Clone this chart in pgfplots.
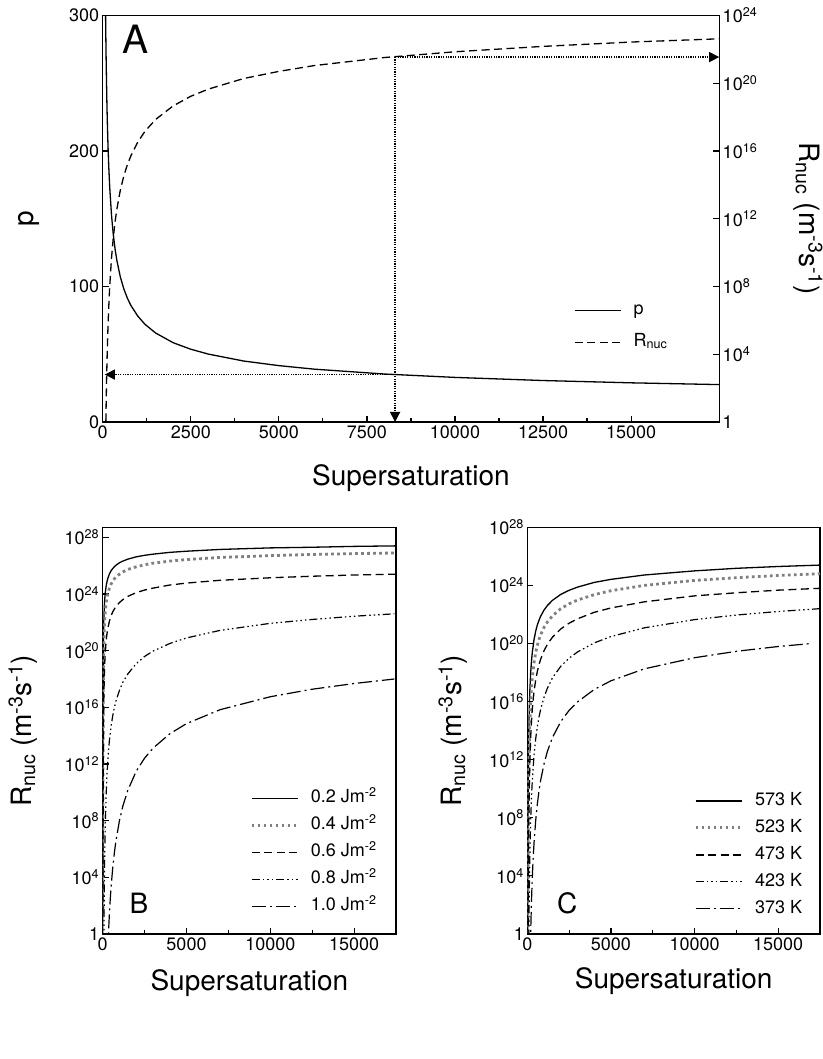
\documentclass[border=0pt]{standalone}
\usepackage{fontspec}
\setmainfont{TeX Gyre Heros}
\usepackage{pgfplots}
\pgfplotsset{compat=1.18}
\usetikzlibrary{arrows.meta}

\newcommand\tfont{\fontsize{18}{21}\selectfont}
\newcommand\lfont{\fontsize{28}{32}\selectfont}

\pgfplotsset{
  myaxis/.style={
    scale only axis,
    anchor=south west,
    axis line style={line width=1.4pt},
    every tick/.style={black, line width=1.2pt},
    major tick length=6pt, minor tick length=4pt,
    tick align=inside,
    tick label style={font=\tfont},
    scaled x ticks=false,
    /pgf/number format/assume math mode=true,
    /pgf/number format/set thousands separator={},
    xmin=0, xmax=17500,
    legend cell align=left,
    legend image code/.code={\draw[##1] (0pt,0pt) -- (46pt,0pt);},
    legend style={draw=none, fill=none, font=\tfont, inner sep=0pt, column sep=12pt,
      nodes={inner sep=0pt, text height=13pt, text depth=4pt}},
  },
  solidl/.style={black, line width=1.3pt, line join=round},
  dashedl/.style={black, line width=1.3pt, dash pattern=on 8pt off 4.5pt},
  dottedl/.style={gray, line width=2.8pt, dash pattern=on 2.8pt off 3.2pt},
  dddl/.style={black, line width=1.2pt, dash pattern=on 8pt off 3pt on 1.5pt off 3pt on 1.5pt off 3pt on 1.5pt off 3pt},
  ddl/.style={black, line width=1.2pt, dash pattern=on 14pt off 4pt on 2pt off 4pt},
  arr/.style={black, line width=1.4pt, dash pattern=on 1.2pt off 1.2pt, -{Triangle[length=10pt,width=10pt]}},
}

\begin{document}
\begin{tikzpicture}
\useasboundingbox (0pt,0pt) rectangle (822pt,1059pt);

% ---------------- Panel A ----------------
\begin{axis}[myaxis, at={(102.7pt,637pt)}, width=616.5pt, height=406.5pt,
  ymin=0, ymax=300, ytick={0,100,200,300},
  xtick={0,2500,5000,7500,10000,12500,15000}, minor x tick num=1,
  xtick pos=bottom, ytick pos=left, clip=false,
  xlabel={Supersaturation}, ylabel={p},
  every axis x label/.style={at={(axis description cs:0.5,-0.138)}, anchor=center, font=\lfont},
  every axis y label/.style={at={(axis description cs:-0.1195,0.5)}, rotate=90, anchor=center, font=\lfont},
]
\addplot[solidl] coordinates {
(82,300) (90,282.1) (100,263.2) (120,234.3) (130,222.9) (150,204.3) (170,189.7)
(200,172.8) (250,152.7) (300,138.5) (350,127.9) (400,119.5) (500,107.1) (600,98.2)
(700,91.4) (800,86.0) (1000,78.0) (1200,72.1) (1500,65.7) (2000,58.5) (2500,53.7)
(3000,50.1) (4000,45.0) (5000,41.6) (6000,39.0) (8000,35.4) (10000,32.9)
(12500,30.6) (15000,28.9) (17500,27.6)};
\addplot[arr] coordinates {(8300,35) (60,35)};
\addplot[arr] coordinates {(8300,269.4) (8300,0)};
\node[font=\fontsize{39}{42}\selectfont] at (axis description cs:0.054,0.942) {A};
\end{axis}

\begin{axis}[myaxis, at={(102.7pt,637pt)}, width=616.5pt, height=406.5pt,
  ymode=log, ymin=1, ymax=1e24, axis x line=none, axis y line*=right, clip=false,
  ytick={1,1e4,1e8,1e12,1e16,1e20,1e24},
  yticklabels={1,10\textsuperscript{4},10\textsuperscript{8},10\textsuperscript{12},10\textsuperscript{16},10\textsuperscript{20},10\textsuperscript{24}},
  ylabel={R\textsubscript{nuc} (m\textsuperscript{-3}s\textsuperscript{-1})},
  every axis y label/.style={at={(axis description cs:1.144,0.5)}, rotate=-90, anchor=center, font=\lfont},
  legend style={at={(axis description cs:0.7645,0.300)}, anchor=north west, row sep=12pt,
    nodes={inner sep=0pt, text height=14pt, text depth=6pt}},
]
\addlegendimage{solidl}
\addlegendentry{p}
\addplot[dashedl] coordinates {
(90,1.1) (100,22) (110,2.8e2) (120,2.5e3) (130,1.7e4) (150,4.0e5) (170,5.1e6)
(200,1.1e8) (250,4.8e9) (300,7.4e10) (350,6.3e11) (400,3.5e12) (500,4.8e13)
(600,3.4e14) (700,1.55e15) (800,5.2e15) (1000,3.5e16) (1200,1.45e17) (1500,7.2e17)
(2000,4.6e18) (2500,1.7e19) (3000,4.5e19) (4000,1.9e20) (5000,5.0e20)
(6000,1.1e21) (8000,3.3e21) (10000,7.2e21) (12500,1.5e22) (15000,2.7e22) (17500,4.2e22)};
\addlegendentry{R\textsubscript{nuc}}
\addplot[arr, forget plot] coordinates {(8300,3.5e21) (17500,3.5e21)};
\end{axis}

% ---------------- Panel B ----------------
\begin{axis}[myaxis, at={(102.7pt,125pt)}, width=293.3pt, height=406.3pt,
  ymode=log, ymin=1, ymax=4.8e28,
  ytick={1,1e4,1e8,1e12,1e16,1e20,1e24,1e28},
  yticklabels={1,10\textsuperscript{4},10\textsuperscript{8},10\textsuperscript{12},10\textsuperscript{16},10\textsuperscript{20},10\textsuperscript{24},10\textsuperscript{28}},
  xtick={0,5000,10000,15000}, minor x tick num=1,
  xtick pos=bottom, ytick pos=left,
  xlabel={Supersaturation}, ylabel={R\textsubscript{nuc} (m\textsuperscript{-3}s\textsuperscript{-1})},
  every axis x label/.style={at={(axis description cs:0.5,-0.12)}, anchor=center, font=\lfont},
  every axis y label/.style={at={(axis description cs:-0.272,0.5)}, rotate=90, anchor=center, font=\lfont},
  legend style={at={(axis description cs:0.502,0.3557)}, anchor=north west, row sep=10pt},
]
\addplot[solidl] coordinates {
(7,2.5e-2) (10,1e7) (15,1e13) (20,6.9e15) (30,5.0e18) (50,1.3e21) (70,1.8e22)
(100,1.6e23) (120,4.0e23) (150,1.1e24) (200,3.3e24) (250,6.9e24) (300,1.2e25)
(400,2.6e25) (500,4.4e25) (600,6.3e25) (700,8.5e25) (800,1.1e26) (1000,1.6e26)
(1200,2.1e26) (1500,2.9e26) (2000,4.2e26) (2500,5.4e26) (3000,6.5e26) (4000,8.7e26)
(5000,1.05e27) (7000,1.4e27) (10000,1.8e27) (12500,2.0e27) (15000,2.3e27) (17500,2.5e27)};
\addlegendentry{0.2 Jm\textsuperscript{-2}}
\addplot[dottedl] coordinates {
(10,25) (15,7.9e8) (20,3.0e12) (30,1.1e16) (50,1.15e19) (70,3.0e20) (100,4.6e21)
(120,1.4e22) (150,5.0e22) (200,2.0e23) (250,5.1e23) (300,1.0e24) (400,2.6e24)
(500,5.0e24) (600,8.1e24) (700,1.2e25) (800,1.6e25) (1000,2.5e25) (1200,3.6e25)
(1500,5.4e25) (2000,8.3e25) (2500,1.15e26) (3000,1.5e26) (4000,2.1e26) (5000,2.7e26)
(7000,3.8e26) (10000,5.1e26) (12500,6.2e26) (15000,7.1e26) (17500,7.9e26)};
\addlegendentry{0.4 Jm\textsuperscript{-2}}
\addplot[dashedl] coordinates {
(15,25) (20,1.4e6) (30,8.1e10) (50,8.5e14) (70,6.8e16) (100,2.5e18) (120,1.2e19)
(150,6.3e19) (200,4.0e20) (250,1.4e21) (300,3.5e21) (400,1.2e22) (500,2.9e22)
(600,5.5e22) (700,8.9e22) (800,1.35e23) (1000,2.5e23) (1200,4.0e23) (1500,6.8e23)
(2000,1.26e24) (2500,1.9e24) (3000,2.6e24) (4000,4.3e24) (5000,5.9e24) (7000,9.3e24)
(10000,1.4e25) (12500,1.8e25) (15000,2.2e25) (17500,2.5e25)};
\addlegendentry{0.6 Jm\textsuperscript{-2}}
\addplot[dddl] coordinates {
(70,0.3) (100,5.2e3) (120,3.4e5) (150,3.1e7) (200,4.5e9) (250,1.3e11) (300,1.5e12)
(350,9.8e12) (400,4.5e13) (500,4.7e14) (600,2.6e15) (700,1e16) (800,3.0e16)
(1000,1.6e17) (1200,5.8e17) (1500,2.3e18) (2000,1.2e19) (2500,3.9e19) (3000,9.3e19)
(4000,3.2e20) (5000,7.9e20) (7000,2.7e21) (10000,8.5e21) (12500,1.6e22)
(15000,2.7e22) (17400,4.0e22)};
\addlegendentry{0.8 Jm\textsuperscript{-2}}
\addplot[ddl] coordinates {
(300,0.05) (350,1.6) (400,26) (450,2.8e2) (500,2.0e3) (600,4.9e4) (700,5.9e5)
(800,4.5e6) (1000,1.0e8) (1200,1.05e9) (1500,1.4e10) (2000,3.1e11) (2500,2.6e12)
(3000,1.3e13) (4000,1.35e14) (5000,7.1e14) (7000,6.8e15) (10000,5.6e16)
(12500,1.9e17) (15000,4.8e17) (17400,1.0e18)};
\addlegendentry{1.0 Jm\textsuperscript{-2}}
\node[font=\lfont] at (axis description cs:0.124,0.076) {B};
\end{axis}

% ---------------- Panel C ----------------
\begin{axis}[myaxis, at={(527.3pt,125pt)}, width=292.7pt, height=406.7pt,
  ymode=log, ymin=1, ymax=1e28,
  ytick={1,1e4,1e8,1e12,1e16,1e20,1e24,1e28},
  yticklabels={1,10\textsuperscript{4},10\textsuperscript{8},10\textsuperscript{12},10\textsuperscript{16},10\textsuperscript{20},10\textsuperscript{24},10\textsuperscript{28}},
  xtick={0,5000,10000,15000}, minor x tick num=1,
  xtick pos=bottom, ytick pos=left,
  xlabel={Supersaturation}, ylabel={R\textsubscript{nuc} (m\textsuperscript{-3}s\textsuperscript{-1})},
  every axis x label/.style={at={(axis description cs:0.5,-0.115)}, anchor=center, font=\lfont},
  every axis y label/.style={at={(axis description cs:-0.254,0.5)}, rotate=90, anchor=center, font=\lfont},
  legend style={at={(axis description cs:0.5695,0.3487)}, anchor=north west, row sep=10pt},
]
\addplot[solidl] coordinates {
(25,0.85) (30,8.1e2) (40,5.6e6) (50,1.4e9) (70,1.3e12) (100,3.5e14) (120,3.9e15)
(150,5.1e16) (200,9.1e17) (250,6.2e18) (300,2.5e19) (400,1.8e20) (500,6.9e20)
(600,1.9e21) (700,4.0e21) (800,7.6e21) (1000,2.0e22) (1200,4.1e22) (1500,9.3e22)
(2000,2.4e23) (2500,4.6e23) (3000,7.6e23) (4000,1.6e24) (5000,2.6e24) (7000,5.2e24)
(10000,1.0e25) (12500,1.5e25) (15000,2.0e25) (17500,2.5e25)};
\addlegendentry{573 K}
\addplot[dottedl] coordinates {
(30,0.01) (40,3.6e2) (50,2.7e5) (70,8.7e8) (100,7.2e11) (120,1.3e13) (150,2.8e14)
(200,8.5e15) (250,8.3e16) (300,4.5e17) (400,4.7e18) (500,2.3e19) (600,7.4e19)
(700,1.9e20) (800,4.0e20) (1000,1.3e21) (1200,3.0e21) (1500,7.9e21) (2000,2.5e22)
(2500,5.4e22) (3000,9.8e22) (4000,2.3e23) (5000,4.3e23) (7000,1.0e24)
(10000,2.2e24) (12500,3.4e24) (15000,4.8e24) (17500,6.3e24)};
\addlegendentry{523 K}
\addplot[dashedl] coordinates {
(40,0.01) (50,20) (70,2.5e5) (100,5.9e8) (120,1.6e10) (150,5.9e11) (200,3.1e13)
(250,4.5e14) (300,3.2e15) (400,4.8e16) (500,3.0e17) (600,1.2e18) (700,3.5e18)
(800,8.5e18) (1000,3.2e19) (1200,8.7e19) (1500,2.7e20) (2000,1.0e21) (2500,2.5e21)
(3000,5.0e21) (4000,1.4e22) (5000,2.8e22) (7000,7.4e22) (10000,1.9e23)
(12500,3.1e23) (15000,4.7e23) (17500,6.3e23)};
\addlegendentry{473 K}
\addplot[dddl] coordinates {
(90,0.58) (100,11.5) (120,1.3e3) (150,2.1e5) (200,5.9e7) (250,2.6e9) (300,4.1e10)
(400,1.9e12) (500,2.7e13) (600,1.9e14) (700,8.7e14) (800,3.0e15) (1000,2.0e16)
(1200,8.3e16) (1500,4.2e17) (2000,2.7e18) (2500,9.8e18) (3000,2.6e19) (4000,1.1e20)
(5000,3.0e20) (7000,1.2e21) (10000,4.4e21) (12500,9.1e21) (15000,1.6e22) (17500,2.5e22)};
\addlegendentry{423 K}
\addplot[ddl] coordinates {
(180,0.08) (200,1.1) (250,1.9e2) (300,8.5e3) (350,1.6e5) (400,1.7e6) (500,6.2e7)
(600,8.9e8) (700,7.1e9) (800,3.9e10) (1000,5.2e11) (1200,3.7e12) (1500,3.3e13)
(2000,4.2e14) (2500,2.5e15) (3000,9.5e15) (4000,6.8e16) (5000,2.7e17) (7000,1.8e18)
(10000,1.05e19) (12500,2.9e19) (15000,6.2e19) (17000,1.0e20)};
\addlegendentry{373 K}
\node[font=\lfont] at (axis description cs:0.136,0.076) {C};
\end{axis}
\end{tikzpicture}
\end{document}
